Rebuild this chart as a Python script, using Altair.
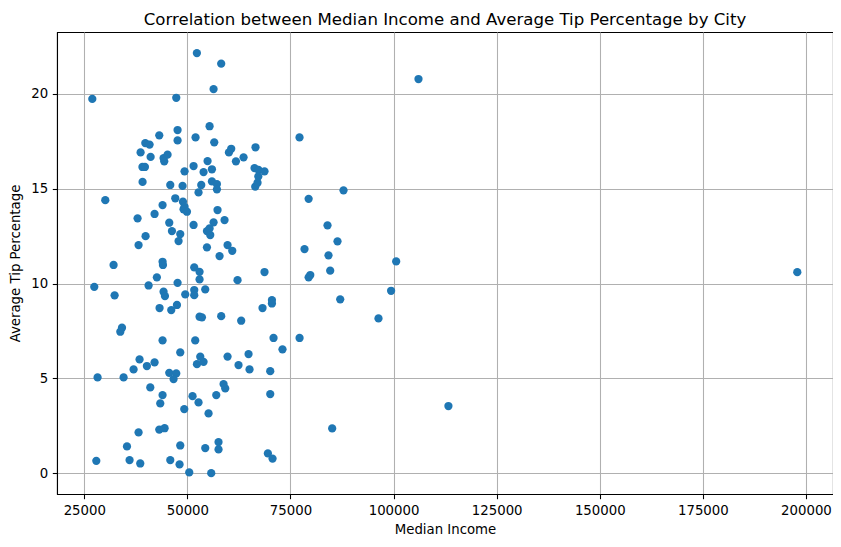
import altair as alt
import pandas as pd

median_income = [
    52300, 58200, 56350, 26940, 47300, 106040, 47620, 55380, 43180, 47620,
    51980, 56510, 39790, 40830, 77190, 38650, 41080, 44220, 45190, 44390,
    39100, 39700, 49310, 51500, 54890, 53920, 55950, 60070, 60630, 63620,
    66520, 61770, 66280, 67250, 68700, 66450, 67010, 67200, 39130, 45850,
    48830, 53360, 55950, 57160, 87860, 30090, 52700, 57160, 47060, 48920,
    49310, 49070, 49890, 43980, 42040, 37920, 45600, 46250, 48270, 47860,
    51500, 56350, 54740, 55380, 55540, 57310, 59010, 54740, 57800, 59740,
    60880, 39860, 38160, 79400, 83980, 86400, 78400, 84220, 100630, 32100,
    43980, 44070, 51660, 52950, 52950, 42600, 27420, 40590, 47620, 44220,
    44560, 32350, 49480, 51660, 51660, 54330, 68700, 62160, 84630, 79800,
    79400, 99400, 87060, 197900, 43250, 46090, 47470, 52950, 53530, 58200,
    63050, 68220, 70500, 70500, 96340, 34140, 33730, 43980, 51900, 70890,
    77200, 73060, 48270, 53120, 52320, 53920, 59740, 64830, 62400, 65070,
    70090, 38400, 36950, 40180, 42040, 28220, 34530, 45600, 47300, 46650,
    41000, 43980, 43420, 51250, 52700, 49240, 55130, 57000, 58770, 59180,
    70090, 38160, 43180, 44470, 48270, 35350, 54330, 57550, 57550, 27910,
    35980, 38570, 45850, 48100, 50450, 55780, 69520, 70650, 85110, 113300,
]

avg_tip_pct = [
    22.16, 21.60, 20.26, 19.74, 19.80, 20.79, 18.10, 18.30, 17.82, 17.55,
    17.71, 17.45, 17.41, 17.33, 17.71, 16.92, 16.68, 16.62, 16.80, 16.45,
    16.15, 16.15, 15.92, 16.20, 16.46, 15.88, 16.03, 16.92, 17.11, 16.66,
    17.19, 16.45, 16.09, 16.00, 15.92, 15.11, 15.32, 15.65, 15.36, 15.20,
    15.15, 15.20, 15.39, 15.25, 14.92, 14.40, 14.81, 14.97, 14.50, 14.32,
    14.05, 13.92, 13.79, 14.14, 13.67, 13.44, 13.21, 12.77, 12.61, 12.24,
    13.09, 13.23, 12.77, 12.91, 12.56, 13.88, 13.35, 11.91, 11.45, 12.03,
    11.73, 12.50, 12.03, 14.47, 13.07, 12.23, 11.82, 11.49, 11.17, 10.98,
    11.15, 10.98, 10.85, 10.62, 10.22, 10.33, 9.83, 9.90, 10.04, 9.57,
    9.34, 9.38, 9.43, 9.66, 9.39, 9.69, 10.61, 10.18, 10.68, 10.45,
    10.33, 9.62, 9.17, 10.60, 8.71, 8.60, 8.87, 8.25, 8.22, 8.28,
    8.04, 8.71, 8.95, 9.13, 8.16, 7.67, 7.46, 7.00, 7.00, 7.13,
    7.13, 6.53, 6.37, 6.14, 5.75, 5.87, 6.15, 6.28, 5.70, 5.47,
    5.38, 6.00, 5.47, 5.65, 5.84, 5.05, 5.05, 5.29, 5.26, 4.96,
    4.52, 4.12, 3.68, 4.06, 3.73, 3.38, 3.15, 4.12, 4.70, 4.47,
    4.17, 2.15, 2.30, 2.37, 1.46, 1.41, 1.32, 1.64, 1.25, 0.65,
    0.69, 0.51, 0.69, 0.46, 0.04, 0.00, 1.04, 0.77, 2.36, 3.54,
]

x_ticks = [25000, 50000, 75000, 100000, 125000, 150000, 175000, 200000]
y_ticks = [0, 5, 10, 15, 20]

df = pd.DataFrame({"Median Income": median_income, "Average Tip Percentage": avg_tip_pct})

FONT = "DejaVu Sans"

chart = (
    alt.Chart(df)
    .mark_circle(size=68, color="#1f77b4", opacity=1)
    .encode(
        x=alt.X(
            "Median Income:Q",
            scale=alt.Scale(domain=[18380, 206560], nice=False, zero=False),
            axis=alt.Axis(
                values=x_ticks, format="d", title="Median Income",
                titlePadding=6,
            ),
        ),
        y=alt.Y(
            "Average Tip Percentage:Q",
            scale=alt.Scale(domain=[-1.1, 23.27], nice=False, zero=False),
            axis=alt.Axis(
                values=y_ticks, format="d", title="Average Tip Percentage",
                titlePadding=8,
            ),
        ),
    )
    .properties(
        width=776,
        height=462,
        title=alt.TitleParams(
            "Correlation between Median Income and Average Tip Percentage by City",
            fontSize=16.6, fontWeight="normal", font=FONT, color="black",
            baseline="bottom", offset=4, dy=17, anchor="middle",
        ),
        autosize=alt.AutoSizeParams(type="none"),
        padding={"left": 49, "top": 24, "right": 0, "bottom": 45},
    )
    .configure_view(stroke="black", strokeWidth=1.07)
    .configure_axis(
        labelFont=FONT, labelFontSize=13.3, labelColor="black",
        titleFont=FONT, titleFontSize=13.3, titleFontWeight="normal", titleColor="black",
        tickColor="black", tickSize=4.7, tickWidth=1.07,
        domainColor="black", domainWidth=1.07,
        grid=True, gridColor="#b0b0b0", gridWidth=1.07,
        labelPadding=4.7,
    )
)

chart.save("out.html", embed_options={"renderer": "svg", "actions": False})
